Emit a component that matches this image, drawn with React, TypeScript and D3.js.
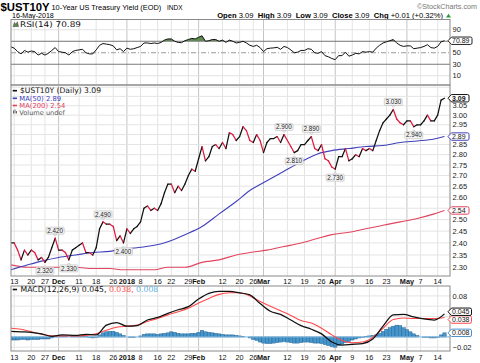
import React, { useMemo } from "react";
import * as d3 from "d3";

const HOLIDAYS = ["2017-11-23", "2017-12-25", "2018-01-01", "2018-01-15", "2018-02-19", "2018-03-30"];
const FIRST_DAY = "2017-11-10";
const LAST_DAY = "2018-05-16";

const closeValues = [
  2.40, 2.40, 2.37, 2.33, 2.37, 2.35, 2.37, 2.36, 2.33, 2.34,
  2.32, 2.34, 2.38, 2.42, 2.37, 2.37, 2.36, 2.33, 2.37, 2.38,
  2.39, 2.40, 2.36, 2.36, 2.35, 2.38, 2.46, 2.49, 2.48, 2.48,
  2.47, 2.41, 2.43, 2.40, 2.46, 2.44, 2.46, 2.47, 2.49, 2.55,
  2.56, 2.54, 2.55, 2.54, 2.57, 2.62, 2.66, 2.66, 2.62, 2.65,
  2.63, 2.66, 2.70, 2.73, 2.72, 2.78, 2.84, 2.77, 2.79, 2.84,
  2.85, 2.83, 2.86, 2.83, 2.91, 2.90, 2.87, 2.89, 2.94, 2.92,
  2.87, 2.86, 2.90, 2.87, 2.81, 2.86, 2.88, 2.88, 2.89, 2.86,
  2.90, 2.87, 2.84, 2.81, 2.82, 2.85, 2.85, 2.87, 2.89, 2.83,
  2.82, 2.85, 2.78, 2.77, 2.74, 2.73, 2.79, 2.79, 2.83, 2.77,
  2.78, 2.80, 2.79, 2.83, 2.82, 2.83, 2.82, 2.87, 2.92, 2.96,
  2.98, 3.00, 3.03, 2.98, 2.96, 2.95, 2.97, 2.97, 2.94, 2.95,
  2.95, 2.97, 3.00, 2.97, 2.97, 3.00, 3.08, 3.09,
];

const rsiValues = [
  60.5, 58, 52, 48, 54, 51, 53, 52, 46, 49,
  46, 49, 54, 59, 52, 51, 50, 46, 52, 54,
  55, 56, 50, 48, 48, 55, 63, 66, 65, 64,
  62, 55, 57, 52, 58, 56, 57, 59, 61, 67,
  67, 66, 67, 66, 68, 72, 74, 74, 70, 68,
  67.5, 71, 73, 75, 74, 77, 79.5, 70, 71, 73,
  73, 70, 72, 68, 72, 70, 67, 68, 70, 67,
  63, 61, 63, 59, 52, 57, 58, 58.5, 59.5, 56,
  61, 59, 55, 50, 51, 54, 54, 57, 56, 50,
  49, 52, 45, 43, 40, 38, 45, 45, 51, 44,
  46, 49, 48, 52, 51, 52, 51, 58, 63, 67,
  69, 71, 73, 67, 63, 61, 62, 62, 57, 58,
  59, 61, 64, 59, 58, 61, 69, 70.89,
];

const histValues = [
  -0.006, -0.006, -0.006, -0.005, -0.005, -0.006, -0.005, -0.005, -0.005, -0.004,
  -0.004, -0.004, -0.002, 0.001, 0.002, 0.002, 0.001, 0.0, 0.001, 0.001,
  0.001, 0.002, 0.001, -0.001, -0.002, -0.001, 0.004, 0.008, 0.010, 0.011,
  0.011, 0.009, 0.006, 0.003, 0.0, -0.001, -0.001, 0.0, 0.002, 0.005,
  0.006, 0.006, 0.006, 0.005, 0.006, 0.007, 0.008, 0.010, 0.009, 0.007,
  0.006, 0.006, 0.006, 0.007, 0.007, 0.009, 0.013, 0.010, 0.009, 0.008,
  0.007, 0.006, 0.005, 0.004, 0.004, 0.004, 0.003, 0.002, 0.001, 0.0,
  -0.002, -0.005, -0.007, -0.010, -0.012, -0.013, -0.013, -0.012, -0.011, -0.010,
  -0.009, -0.010, -0.011, -0.012, -0.012, -0.011, -0.010, -0.010, -0.011, -0.012,
  -0.012, -0.013, -0.015, -0.017, -0.019, -0.020, -0.017, -0.014, -0.011, -0.009,
  -0.006, -0.004, -0.002, -0.001, 0.001, 0.002, 0.003, 0.004, 0.007, 0.011,
  0.015, 0.018, 0.021, 0.023, 0.022, 0.018, 0.014, 0.010, 0.006, 0.003,
  0.0, -0.001, -0.001, -0.002, -0.002, -0.001, 0.004, 0.008,
];

const maDates = [
  "2017-11-10", "2017-11-17", "2017-11-24", "2017-12-01", "2017-12-08", "2017-12-15", "2017-12-22",
  "2017-12-29", "2018-01-05", "2018-01-12", "2018-01-19", "2018-01-26", "2018-02-02", "2018-02-09",
  "2018-02-16", "2018-02-23", "2018-03-02", "2018-03-09", "2018-03-16", "2018-03-23", "2018-03-29",
  "2018-04-06", "2018-04-13", "2018-04-20", "2018-04-27", "2018-05-04", "2018-05-11", "2018-05-16",
];
const ma50Values = [
  2.29, 2.31, 2.325, 2.34, 2.35, 2.36, 2.365, 2.375, 2.38, 2.39, 2.405, 2.435, 2.47, 2.525,
  2.58, 2.63, 2.675, 2.72, 2.765, 2.805, 2.82, 2.83, 2.84, 2.845, 2.86, 2.868, 2.878, 2.89,
];
const ma200Values = [
  2.31, 2.30, 2.30, 2.30, 2.30, 2.295, 2.295, 2.29, 2.29, 2.29, 2.30, 2.30, 2.32, 2.33,
  2.35, 2.36, 2.37, 2.385, 2.40, 2.42, 2.435, 2.445, 2.46, 2.475, 2.49, 2.505, 2.525, 2.54,
];

const macdDates = [
  "2017-11-10", "2017-11-15", "2017-11-20", "2017-11-24", "2017-11-29", "2017-12-04", "2017-12-08",
  "2017-12-13", "2017-12-18", "2017-12-21", "2017-12-27", "2018-01-02", "2018-01-05", "2018-01-10",
  "2018-01-16", "2018-01-19", "2018-01-24", "2018-01-29", "2018-02-01", "2018-02-06", "2018-02-09",
  "2018-02-14", "2018-02-20", "2018-02-23", "2018-02-28", "2018-03-05", "2018-03-08", "2018-03-13",
  "2018-03-16", "2018-03-21", "2018-03-26", "2018-03-29", "2018-04-04", "2018-04-09", "2018-04-12",
  "2018-04-17", "2018-04-20", "2018-04-25", "2018-04-30", "2018-05-03", "2018-05-08", "2018-05-11",
  "2018-05-16",
];
const macdValues = [
  0.011, 0.010, 0.009, 0.006, 0.001, 0.004, 0.003, 0.005, 0.004, 0.023, 0.028, 0.021, 0.022, 0.033,
  0.038, 0.046, 0.053, 0.059, 0.074, 0.085, 0.089, 0.089, 0.086, 0.082, 0.065, 0.050, 0.044, 0.033,
  0.022, 0.015, 0.006, -0.010, -0.016, -0.0145, -0.013, -0.004, 0.021, 0.043, 0.044, 0.039, 0.035,
  0.033, 0.045,
];
const signalValues = [
  0.017, 0.015, 0.010, 0.0055, 0.002, 0.002, 0.002, 0.003, 0.006, 0.013, 0.019, 0.021, 0.023, 0.030,
  0.036, 0.043, 0.049, 0.056, 0.066, 0.075, 0.083, 0.086, 0.086, 0.080, 0.069, 0.060, 0.051, 0.042,
  0.032, 0.027, 0.017, 0.004, -0.007, -0.0115, -0.010, -0.001, 0.017, 0.034, 0.037, 0.036, 0.036,
  0.036, 0.038,
];

const peakDates = ["2017-11-30", "2017-12-20", "2018-03-09", "2018-03-21", "2018-04-25"];
const troughDates = ["2017-11-27", "2017-12-06", "2017-12-29", "2018-03-14", "2018-04-02", "2018-05-03"];

const tickDates = [
  "2017-11-13", "2017-11-20", "2017-11-27", "2017-12-01", "2017-12-11", "2017-12-18", "2017-12-26",
  "2018-01-02", "2018-01-08", "2018-01-16", "2018-01-22", "2018-01-29", "2018-02-01", "2018-02-12",
  "2018-02-20", "2018-02-26", "2018-03-01", "2018-03-12", "2018-03-19", "2018-03-26", "2018-04-02",
  "2018-04-09", "2018-04-16", "2018-04-23", "2018-05-01", "2018-05-07", "2018-05-14",
];
const tickLabels = [
  "13", "20", "27", "Dec", "11", "18", "26", "2018", "8", "16", "22", "29", "Feb", "12",
  "20", "26", "Mar", "12", "19", "26", "Apr", "9", "16", "23", "May", "7", "14",
];
const monthTickDates = ["2017-12-01", "2018-01-02", "2018-02-01", "2018-03-01", "2018-04-02", "2018-05-01"];

const priceTicks = [2.30, 2.35, 2.40, 2.45, 2.50, 2.55, 2.60, 2.65, 2.70, 2.75, 2.80, 2.85, 2.90, 2.95, 3.00, 3.05, 3.10, 3.15];
const rsiTicks = [10, 30, 50, 70, 90];
const macdTicks = [-0.02, 0.0, 0.02, 0.04, 0.06, 0.08];

const SANS = "'Liberation Sans', Arial, sans-serif";
const DV = "'DejaVu Sans', Verdana, sans-serif";

const L = 11, R = 450;
const RSI_T = 19.5, RSI_B = 85;
const PR_T = 85, PR_B = 276;
const MD_T = 286, MD_B = 351;

const RED = "#e3173e";
const BLUE = "#4040bb";
const MA200C = "#e2445f";
const SIGC = "#ff4a4a";
const HISTC = "#4596cc";
const TAG_H = 7.4;

function tradingDays(): string[] {
  const out: string[] = [];
  const d = new Date(FIRST_DAY + "T00:00:00Z");
  const end = new Date(LAST_DAY + "T00:00:00Z").getTime();
  while (d.getTime() <= end) {
    const wd = d.getUTCDay();
    const s = d.toISOString().slice(0, 10);
    if (wd !== 0 && wd !== 6 && HOLIDAYS.indexOf(s) < 0) out.push(s);
    d.setUTCDate(d.getUTCDate() + 1);
  }
  return out;
}

function Tag(props: { y: number; text: string; color: string; bold?: boolean; w?: number }) {
  const { y, text, color, bold = false, w = 21 } = props;
  const x0 = 448, h = TAG_H;
  const t = y - h / 2, b = y + h / 2, r = x0 + w;
  const p = `M${x0},${y} L${x0 + 3.5},${t} L${r - 1.5},${t} Q${r},${t} ${r},${t + 1.5} L${r},${b - 1.5} Q${r},${b} ${r - 1.5},${b} L${x0 + 3.5},${b} Z`;
  return (
    <g>
      <path d={p} fill="#fff" stroke={color} strokeWidth={1} />
      <text x={x0 + 4} y={y + 2.5} fontSize={7} fontWeight={bold ? "bold" : "normal"} fill="#111" fontFamily={SANS}>
        {text}
      </text>
    </g>
  );
}

function Note(props: { cx: number; py: number; up: boolean; label: string }) {
  const { cx, py, up, label } = props;
  const w = 18, h = 7;
  const cy = up ? py - 7.5 : py + 8.5;
  const tri = up
    ? `M${cx - 2},${cy + h / 2} L${cx},${cy + h / 2 + 2} L${cx + 2},${cy + h / 2} Z`
    : `M${cx - 2},${cy - h / 2} L${cx},${cy - h / 2 - 2} L${cx + 2},${cy - h / 2} Z`;
  return (
    <g>
      <rect x={cx - w / 2} y={cy - h / 2} width={w} height={h} rx={1} fill="#f3f3f3" stroke="#c4c4c4" strokeWidth={0.7} />
      <path d={tri} fill="#f3f3f3" stroke="#c4c4c4" strokeWidth={0.7} />
      <text x={cx} y={cy + 2.2} fontSize={6.3} textAnchor="middle" fill="#222" fontFamily={SANS}>
        {label}
      </text>
    </g>
  );
}

export default function App() {
  const dates = useMemo(tradingDays, []);
  const idx = (d: string) => dates.indexOf(d);
  const n = dates.length;

  const x = d3.scaleLinear().domain([0, n - 1]).range([10.8, 444.5]);
  const step = x(1) - x(0);
  const yP = d3.scaleLog().domain([2.3, 3.05]).range([267.3, 105.7]);
  const yR = d3.scaleLinear().domain([0, 100]).range([81.5, 24]);
  const yM = d3.scaleLinear().domain([-0.02, 0.08]).range([347.2, 295.9]);

  const rsiLine = d3.line<number>().x((_, i) => x(i)).y((v) => yR(v))(rsiValues) || "";
  const rsiArea = d3.area<number>().x((_, i) => x(i)).y0(yR(70)).y1((v) => yR(v))(rsiValues) || "";

  const smooth = (ds: string[], vs: number[], ys: (v: number) => number) =>
    d3
      .line<[number, number]>()
      .curve(d3.curveMonotoneX)
      .x((d) => x(d[0]))
      .y((d) => ys(d[1]))(ds.map((d, k) => [idx(d), vs[k]] as [number, number])) || "";

  const ma50Path = smooth(maDates, ma50Values, (v) => yP(v));
  const ma200Path = smooth(maDates, ma200Values, (v) => yP(v));
  const macdPath = smooth(macdDates, macdValues, (v) => yM(v));
  const sigPath = smooth(macdDates, signalValues, (v) => yM(v));

  const lastClose = closeValues[n - 1];
  const lastMa50 = ma50Values[ma50Values.length - 1];
  const lastMa200 = ma200Values[ma200Values.length - 1];
  const lastRsi = rsiValues[n - 1];
  const lastMacd = macdValues[macdValues.length - 1];
  const lastSig = signalValues[signalValues.length - 1];
  const lastHist = histValues[n - 1];

  let yMacdTag = yM(lastMacd), ySigTag = yM(lastSig);
  const gap = TAG_H + 0.4;
  if (ySigTag - yMacdTag < gap) {
    const mid = (ySigTag + yMacdTag) / 2;
    yMacdTag = mid - gap / 2;
    ySigTag = mid + gap / 2;
  }

  const priceTagYs = [yP(lastClose), yP(lastMa50), yP(lastMa200)];
  const rsiTagYs = [yR(lastRsi)];
  const macdTagYs = [yMacdTag, ySigTag, yM(lastHist)];
  const free = (yy: number, tags: number[]) => tags.every((t) => Math.abs(t - yy) > 6.5);

  const f2 = d3.format(".2f");
  const f3 = d3.format(".3f");

  const vgrid = (top: number, bottom: number, key: string) =>
    tickDates.map((d, k) => {
      const major = monthTickDates.indexOf(d) >= 0;
      return (
        <line key={key + k} x1={x(idx(d))} x2={x(idx(d))} y1={top} y2={bottom} stroke={major ? "#c4c4c4" : "#e4e4e4"} strokeWidth={1} />
      );
    });

  const dateLabels = (yb: number, key: string) =>
    tickDates.map((d, k) => {
      const major = monthTickDates.indexOf(d) >= 0;
      return (
        <text key={key + k} x={x(idx(d))} y={yb} fontSize={7.3} textAnchor="middle" fontWeight={major ? "bold" : "normal"} fill="#111" fontFamily={SANS}>
          {tickLabels[k]}
        </text>
      );
    });

  return (
    <svg width={480} height={363} viewBox="0 0 480 363" style={{ position: "absolute", left: 0, top: 0, background: "#fff" }}>
      <defs>
        <clipPath id="rsiClip"><rect x={L} y={RSI_T} width={R - L} height={RSI_B - RSI_T} /></clipPath>
        <clipPath id="rsiFillClip"><rect x={L} y={RSI_T} width={R - L} height={yR(70) - RSI_T} /></clipPath>
        <clipPath id="prClip"><rect x={L} y={PR_T} width={R - L} height={PR_B - PR_T} /></clipPath>
        <clipPath id="mdClip"><rect x={L} y={MD_T} width={R - L} height={MD_B - MD_T} /></clipPath>
      </defs>
      <rect x={0} y={0} width={480} height={363} fill="#fff" />

      {/* Header */}
      <text x={0.5} y={10.5} fontSize={11} fontWeight="bold" fontFamily={SANS} textLength={49} lengthAdjust="spacingAndGlyphs">$UST10Y</text>
      <text x={51.5} y={10} fontSize={7.4} fontFamily={SANS}>10-Year US Treasury Yield (EOD)</text>
      <text x={167} y={10} fontSize={6.5} fontFamily={SANS}>INDX</text>
      <text x={477} y={9} fontSize={7.2} fill="#777" textAnchor="end" fontFamily={SANS}>©StockCharts.com</text>
      <text x={12} y={18.2} fontSize={7.1} fontFamily={SANS}>16-May-2018</text>
      <text x={443} y={18.2} fontSize={7.6} textAnchor="end" fontFamily={SANS} style={{ whiteSpace: "pre" }}>
        <tspan fontWeight="bold">Open</tspan>
        <tspan>{" 3.09  "}</tspan>
        <tspan fontWeight="bold">High</tspan>
        <tspan>{" 3.09  "}</tspan>
        <tspan fontWeight="bold">Low</tspan>
        <tspan>{" 3.09  "}</tspan>
        <tspan fontWeight="bold">Close</tspan>
        <tspan>{" 3.09  "}</tspan>
        <tspan fontWeight="bold">Chg</tspan>
        <tspan>{" +0.01 (+0.32%)"}</tspan>
      </text>
      <path d="M446,17.5 L448.5,13.8 L451,17.5 Z" fill="#2a9a3a" />

      {/* RSI panel */}
      <g>
        {vgrid(RSI_T, RSI_B, "rv")}
        {[10, 90].map((v) => (
          <line key={"rg" + v} x1={L} x2={R} y1={yR(v)} y2={yR(v)} stroke="#e2e2e2" />
        ))}
        <g clipPath="url(#rsiClip)">
          <path d={rsiArea} fill="#5d8d4d" clipPath="url(#rsiFillClip)" />
        </g>
        <line x1={L} x2={R} y1={yR(70)} y2={yR(70)} stroke="#7a7a7a" strokeWidth={1} />
        <line x1={L} x2={R} y1={yR(30)} y2={yR(30)} stroke="#7a7a7a" strokeWidth={1} />
        <line x1={L} x2={R} y1={yR(50)} y2={yR(50)} stroke="#9a9a9a" strokeWidth={1} strokeDasharray="5,2,1,2" />
        <g clipPath="url(#rsiClip)">
          <path d={rsiLine} fill="none" stroke="#111" strokeWidth={1} strokeLinejoin="round" />
        </g>
        <rect x={L} y={RSI_T} width={R - L} height={RSI_B - RSI_T} fill="none" stroke="#8a8a8a" />
        <path d="M13,26.5 L14.5,22.5 L16,24.5 L17.3,21.8 L18.5,26.5 Z" fill="#5d8d4d" stroke="#333" strokeWidth={0.5} />
        <text x={20} y={26.8} fontSize={7.8} fontFamily={DV} fill="#111" textLength={61} lengthAdjust="spacingAndGlyphs">
          {"RSI(14) " + lastRsi.toFixed(2)}
        </text>
        {rsiTicks.filter((v) => free(yR(v), rsiTagYs)).map((v) => (
          <text key={"rt" + v} x={452.5} y={yR(v) + 2.6} fontSize={7.5} fill="#222" fontFamily={SANS}>{v}</text>
        ))}
        <Tag y={yR(lastRsi)} text={lastRsi.toFixed(2)} color="#222" w={24} />
      </g>

      {/* Price panel */}
      <g>
        {vgrid(PR_T, PR_B, "pv")}
        {priceTicks.map((v) => (
          <line key={"pg" + v} x1={L} x2={R} y1={yP(v)} y2={yP(v)} stroke="#e4e4e4" />
        ))}
        <g clipPath="url(#prClip)">
          <path d={ma200Path} fill="none" stroke={MA200C} strokeWidth={1.1} />
          <path d={ma50Path} fill="none" stroke={BLUE} strokeWidth={1.1} />
          {closeValues.slice(1).map((v, k) => {
            const a = closeValues[k];
            return (
              <line key={"s" + k} x1={x(k)} y1={yP(a)} x2={x(k + 1)} y2={yP(v)} stroke={v >= a ? "#111" : RED} strokeWidth={1.25} strokeLinecap="round" />
            );
          })}
        </g>
        {peakDates.map((d) => {
          const i = idx(d);
          return <Note key={"pk" + d} cx={x(i)} py={yP(closeValues[i])} up={true} label={f3(closeValues[i])} />;
        })}
        {troughDates.map((d) => {
          const i = idx(d);
          return <Note key={"tr" + d} cx={x(i)} py={yP(closeValues[i])} up={false} label={f3(closeValues[i])} />;
        })}
        <rect x={L} y={PR_T} width={R - L} height={PR_B - PR_T} fill="none" stroke="#8a8a8a" />
        <line x1={12.7} x2={17} y1={90.7} y2={90.7} stroke="#111" strokeWidth={1.6} />
        <text x={20} y={93.3} fontSize={7.6} fontFamily={DV} fill="#111">{"$UST10Y (Daily) " + lastClose.toFixed(2)}</text>
        <line x1={12.7} x2={17} y1={98.3} y2={98.3} stroke={BLUE} strokeWidth={1.6} />
        <text x={19.3} y={100.8} fontSize={6.8} fontFamily={DV} fill={BLUE}>{"MA(50) " + lastMa50.toFixed(2)}</text>
        <line x1={12.7} x2={17} y1={105.5} y2={105.5} stroke={MA200C} strokeWidth={1.6} />
        <text x={19.3} y={108} fontSize={6.8} fontFamily={DV} fill={MA200C}>{"MA(200) " + lastMa200.toFixed(2)}</text>
        <rect x={13} y={110.5} width={1} height={3} fill="#666" />
        <rect x={14.5} y={109.5} width={1} height={4} fill="#666" />
        <rect x={16} y={111} width={1} height={2.5} fill="#666" />
        <text x={19.3} y={115.3} fontSize={6.6} fontFamily={DV} fill="#555">Volume undef</text>
        {priceTicks.filter((v) => yP(v) > PR_T + 3 && yP(v) < PR_B - 2 && free(yP(v), priceTagYs)).map((v) => (
          <text key={"pt" + v} x={452.5} y={yP(v) + 2.6} fontSize={7.5} fill="#222" fontFamily={SANS}>{f2(v)}</text>
        ))}
        <Tag y={yP(lastMa200)} text={lastMa200.toFixed(2)} color={MA200C} w={21} />
        <Tag y={yP(lastMa50)} text={lastMa50.toFixed(2)} color={BLUE} w={21} />
        <Tag y={yP(lastClose)} text={lastClose.toFixed(2)} color="#111" bold={true} w={21} />
      </g>

      {dateLabels(284.3, "dm")}

      {/* MACD panel */}
      <g>
        {vgrid(MD_T, MD_B, "mv")}
        {macdTicks.map((v) => (
          <line key={"mg" + v} x1={L} x2={R} y1={yM(v)} y2={yM(v)} stroke="#e4e4e4" />
        ))}
        <g clipPath="url(#mdClip)">
          {histValues.map((v, i) => (
            <rect
              key={"h" + i}
              x={x(i) - step / 2}
              y={Math.min(yM(0), yM(v))}
              width={step}
              height={Math.abs(yM(v) - yM(0))}
              fill={HISTC}
              stroke="#25608f"
              strokeWidth={0.45}
            />
          ))}
          <line x1={L} x2={R} y1={yM(0)} y2={yM(0)} stroke="#86bfe6" strokeWidth={1} />
          <path d={sigPath} fill="none" stroke={SIGC} strokeWidth={1.1} />
          <path d={macdPath} fill="none" stroke="#111" strokeWidth={1.25} />
        </g>
        <rect x={L} y={MD_T} width={R - L} height={MD_B - MD_T} fill="none" stroke="#8a8a8a" />
        <line x1={12.7} x2={17} y1={289.5} y2={289.5} stroke="#111" strokeWidth={1.6} />
        <text x={20.5} y={292.2} fontSize={7.75} fontFamily={DV} style={{ whiteSpace: "pre" }}>
          <tspan fill="#111">{"MACD(12,26,9) " + f3(lastMacd) + ","}</tspan>
          <tspan fill={SIGC}>{" " + f3(lastSig) + ","}</tspan>
          <tspan fill="#5ab0e4">{" " + f3(lastHist)}</tspan>
        </text>
        {macdTicks.filter((v) => free(yM(v), macdTagYs)).map((v) => (
          <text key={"mt" + v} x={452.5} y={yM(v) + 2.6} fontSize={7.5} fill="#222" fontFamily={SANS}>{f2(v)}</text>
        ))}
        <Tag y={yM(lastHist)} text={f3(lastHist)} color="#4a90c8" w={23.5} />
        <Tag y={ySigTag} text={f3(lastSig)} color={SIGC} w={23.5} />
        <Tag y={yMacdTag} text={f3(lastMacd)} color="#111" w={23.5} />
      </g>

      {dateLabels(360.3, "db")}
    </svg>
  );
}
